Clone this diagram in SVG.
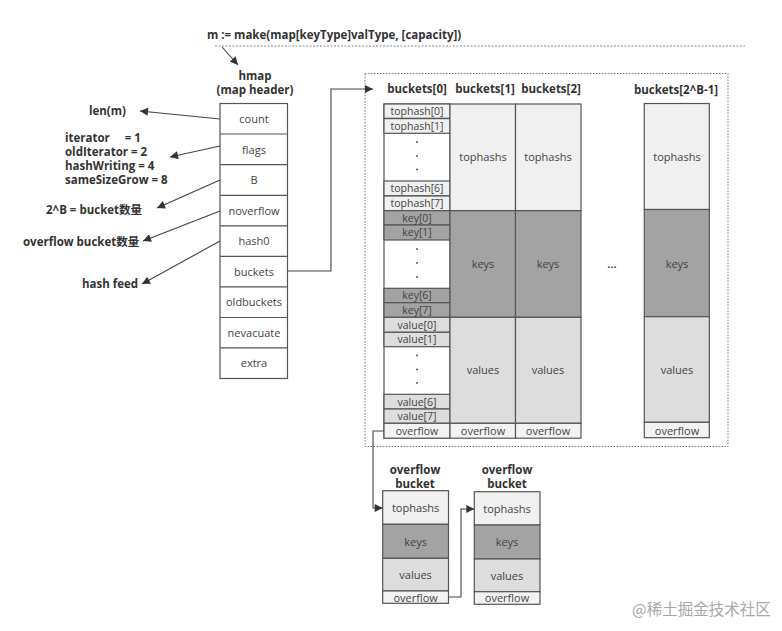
<svg xmlns="http://www.w3.org/2000/svg" width="782" height="631" viewBox="0 0 782 631">
<defs>
<marker id="ah" viewBox="0 0 10 10" refX="10" refY="5" markerWidth="9" markerHeight="8" markerUnits="userSpaceOnUse" orient="auto">
<path d="M0,0 L10,5 L0,10 Z" fill="#333"/>
</marker>
<style>
.lbl{font-family:"Open Sans","Noto Sans CJK SC",sans-serif;font-weight:bold;font-size:11.5px;fill:#333}
.cell{font-family:"Open Sans","Noto Sans CJK SC",sans-serif;font-size:11px;fill:#444;text-anchor:middle}
.sm{font-family:"Open Sans",sans-serif;font-size:10.5px;fill:#444;text-anchor:middle}
.box{stroke:#555;stroke-width:1.2}
.th{fill:#f0f0f0}
.ky{fill:#a3a3a3}
.vl{fill:#dddddd}
.ov{fill:#f3f3f3}
.wh{fill:#ffffff}
.conn{fill:none;stroke:#444;stroke-width:1.1}
.dot{fill:#444}
</style>
</defs>
<rect width="782" height="631" fill="#ffffff"/>

<!-- title -->
<g id="title">
<text class="lbl" x="207" y="39" font-size="12">m := make(map[keyType]valType, [capacity])</text>
<line x1="215" y1="46" x2="745" y2="46" stroke="#888" stroke-width="1" stroke-dasharray="2,1.5"/>
</g>

<!-- container -->
<rect id="container" x="365" y="73.5" width="363" height="373" fill="none" stroke="#777" stroke-width="1" stroke-dasharray="1.5,1.5"/>

<!-- hmap -->
<g id="hmap">
<text class="lbl" x="255" y="80" text-anchor="middle">hmap</text>
<text class="lbl" x="255" y="94" text-anchor="middle">(map header)</text>
<rect class="box wh" x="220" y="103.5" width="67.5" height="275"/>
<line class="box" x1="220" y1="134" x2="287.5" y2="134"/>
<line class="box" x1="220" y1="164.7" x2="287.5" y2="164.7"/>
<line class="box" x1="220" y1="195.3" x2="287.5" y2="195.3"/>
<line class="box" x1="220" y1="225.8" x2="287.5" y2="225.8"/>
<line class="box" x1="220" y1="256.3" x2="287.5" y2="256.3"/>
<line class="box" x1="220" y1="286.8" x2="287.5" y2="286.8"/>
<line class="box" x1="220" y1="317.5" x2="287.5" y2="317.5"/>
<line class="box" x1="220" y1="347.8" x2="287.5" y2="347.8"/>
<text class="cell" x="254" y="123">count</text>
<text class="cell" x="254" y="153.5">flags</text>
<text class="cell" x="254" y="184">B</text>
<text class="cell" x="254" y="214.5">noverflow</text>
<text class="cell" x="254" y="245">hash0</text>
<text class="cell" x="254" y="275.5">buckets</text>
<text class="cell" x="254" y="306">oldbuckets</text>
<text class="cell" x="254" y="337">nevacuate</text>
<text class="cell" x="254" y="367">extra</text>
</g>

<!-- left labels -->
<g id="labels">
<text class="lbl" x="89" y="115">len(m)</text>
<text class="lbl" x="65" y="142" xml:space="preserve">iterator     = 1</text>
<text class="lbl" x="65" y="156">oldIterator  = 2</text>
<text class="lbl" x="65" y="170">hashWriting  = 4</text>
<text class="lbl" x="65" y="184">sameSizeGrow = 8</text>
<text class="lbl" x="46" y="214">2^B = bucket数量</text>
<text class="lbl" x="23" y="246">overflow bucket数量</text>
<text class="lbl" x="82" y="288">hash feed</text>
</g>

<!-- buckets headers -->
<g id="headers">
<text class="lbl" x="417" y="93" text-anchor="middle">buckets[0]</text>
<text class="lbl" x="485" y="93" text-anchor="middle">buckets[1]</text>
<text class="lbl" x="551" y="93" text-anchor="middle">buckets[2]</text>
<text class="lbl" x="676" y="94" text-anchor="middle">buckets[2^B-1]</text>
</g>

<!-- bucket 0 -->
<g id="bucket0">
<rect class="box wh" x="384" y="104" width="66" height="334"/>
<rect class="box th" x="384" y="104" width="66" height="14.3"/>
<rect class="box th" x="384" y="118.6" width="66" height="14.7"/>
<rect class="box th" x="384" y="181" width="66" height="14.8"/>
<rect class="box th" x="384" y="196" width="66" height="14.7"/>
<rect class="box ky" x="384" y="210.7" width="66" height="14.3"/>
<rect class="box ky" x="384" y="225" width="66" height="15"/>
<rect class="box ky" x="384" y="288.3" width="66" height="14.4"/>
<rect class="box ky" x="384" y="302.7" width="66" height="14.6"/>
<rect class="box vl" x="384" y="317.3" width="66" height="15"/>
<rect class="box vl" x="384" y="332.3" width="66" height="14.4"/>
<rect class="box vl" x="384" y="394.3" width="66" height="14.7"/>
<rect class="box vl" x="384" y="409" width="66" height="14.3"/>
<rect class="box ov" x="384" y="423.3" width="66" height="14.9"/>
<text class="sm" x="417" y="115">tophash[0]</text>
<text class="sm" x="417" y="129.8">tophash[1]</text>
<text class="sm" x="417" y="192.3">tophash[6]</text>
<text class="sm" x="417" y="207.2">tophash[7]</text>
<text class="sm" x="417" y="221.6">key[0]</text>
<text class="sm" x="417" y="236.3">key[1]</text>
<text class="sm" x="417" y="299.3">key[6]</text>
<text class="sm" x="417" y="313.8">key[7]</text>
<text class="sm" x="417" y="328.6">value[0]</text>
<text class="sm" x="417" y="343.3">value[1]</text>
<text class="sm" x="417" y="405.5">value[6]</text>
<text class="sm" x="417" y="420">value[7]</text>
<text class="sm" x="417" y="434.6">overflow</text>
<circle class="dot" cx="417" cy="142" r="0.9"/>
<circle class="dot" cx="417" cy="156" r="0.9"/>
<circle class="dot" cx="417" cy="169.5" r="0.9"/>
<circle class="dot" cx="417" cy="249" r="0.9"/>
<circle class="dot" cx="417" cy="263" r="0.9"/>
<circle class="dot" cx="417" cy="277" r="0.9"/>
<circle class="dot" cx="417" cy="355.5" r="0.9"/>
<circle class="dot" cx="417" cy="369.5" r="0.9"/>
<circle class="dot" cx="417" cy="383" r="0.9"/>
</g>

<!-- bucket 1 -->
<g id="bucket1">
<rect class="box th" x="450" y="104" width="65.5" height="106.7"/>
<rect class="box ky" x="450" y="210.7" width="65.5" height="106.6"/>
<rect class="box vl" x="450" y="317.3" width="65.5" height="106"/>
<rect class="box ov" x="450" y="423.3" width="65.5" height="14.9"/>
<text class="cell" x="483" y="161">tophashs</text>
<text class="cell" x="483" y="268">keys</text>
<text class="cell" x="483" y="374">values</text>
<text class="cell" x="483" y="435">overflow</text>
</g>

<!-- bucket 2 -->
<g id="bucket2">
<rect class="box th" x="515.5" y="104" width="65.5" height="106.7"/>
<rect class="box ky" x="515.5" y="210.7" width="65.5" height="106.6"/>
<rect class="box vl" x="515.5" y="317.3" width="65.5" height="106"/>
<rect class="box ov" x="515.5" y="423.3" width="65.5" height="14.9"/>
<text class="cell" x="548" y="161">tophashs</text>
<text class="cell" x="548" y="268">keys</text>
<text class="cell" x="548" y="374">values</text>
<text class="cell" x="548" y="435">overflow</text>
</g>

<text id="ellipsis" class="cell" x="612" y="268" font-weight="bold">...</text>

<!-- bucket last -->
<g id="bucketN">
<rect class="box th" x="644.3" y="103.5" width="65" height="106"/>
<rect class="box ky" x="644.3" y="209.5" width="65" height="107.2"/>
<rect class="box vl" x="644.3" y="316.7" width="65" height="105.6"/>
<rect class="box ov" x="644.3" y="422.3" width="65" height="15.4"/>
<text class="cell" x="677" y="161">tophashs</text>
<text class="cell" x="677" y="268">keys</text>
<text class="cell" x="677" y="374">values</text>
<text class="cell" x="677" y="434.5">overflow</text>
</g>

<!-- overflow bucket 1 -->
<g id="ovbucket1">
<text class="lbl" x="415" y="474" text-anchor="middle" font-size="11">overflow</text>
<text class="lbl" x="415" y="488" text-anchor="middle" font-size="11">bucket</text>
<rect class="box th" x="382.7" y="490.7" width="65.8" height="33.6"/>
<rect class="box ky" x="382.7" y="524.3" width="65.8" height="34"/>
<rect class="box vl" x="382.7" y="558.3" width="65.8" height="32.7"/>
<rect class="box ov" x="382.7" y="591" width="65.8" height="12.3"/>
<text class="cell" x="415.6" y="512">tophashs</text>
<text class="cell" x="415.6" y="545.5">keys</text>
<text class="cell" x="415.6" y="578.5">values</text>
<text class="cell" x="415.6" y="601.5">overflow</text>
</g>

<!-- overflow bucket 2 -->
<g id="ovbucket2">
<text class="lbl" x="507" y="474" text-anchor="middle" font-size="11">overflow</text>
<text class="lbl" x="507" y="488" text-anchor="middle" font-size="11">bucket</text>
<rect class="box th" x="474.3" y="491.7" width="65.7" height="33.3"/>
<rect class="box ky" x="474.3" y="525" width="65.7" height="34"/>
<rect class="box vl" x="474.3" y="559" width="65.7" height="32.7"/>
<rect class="box ov" x="474.3" y="591.7" width="65.7" height="12.6"/>
<text class="cell" x="507" y="513">tophashs</text>
<text class="cell" x="507" y="546">keys</text>
<text class="cell" x="507" y="579.5">values</text>
<text class="cell" x="507" y="602.3">overflow</text>
</g>

<!-- connectors -->
<g id="connectors">
<line class="conn" x1="222" y1="47" x2="238" y2="65" marker-end="url(#ah)"/>
<line class="conn" x1="220" y1="119" x2="140" y2="111" marker-end="url(#ah)"/>
<line class="conn" x1="220" y1="146" x2="170" y2="157" marker-end="url(#ah)"/>
<line class="conn" x1="220" y1="180" x2="157" y2="208" marker-end="url(#ah)"/>
<line class="conn" x1="220" y1="211" x2="143" y2="241" marker-end="url(#ah)"/>
<line class="conn" x1="220" y1="241" x2="142" y2="284" marker-end="url(#ah)"/>
<polyline class="conn" points="287.5,271 331,271 331,89 373,89" marker-end="url(#ah)"/>
<polyline class="conn" points="384,431 373,431 373,508 382.7,508" marker-end="url(#ah)"/>
<polyline class="conn" points="448.5,597 461,597 461,509 474.3,509" marker-end="url(#ah)"/>
</g>

<text id="watermark" x="632" y="615" font-family="'Noto Sans CJK SC',sans-serif" font-size="15.5" fill="#a8a8a8">@稀土掘金技术社区</text>
</svg>
